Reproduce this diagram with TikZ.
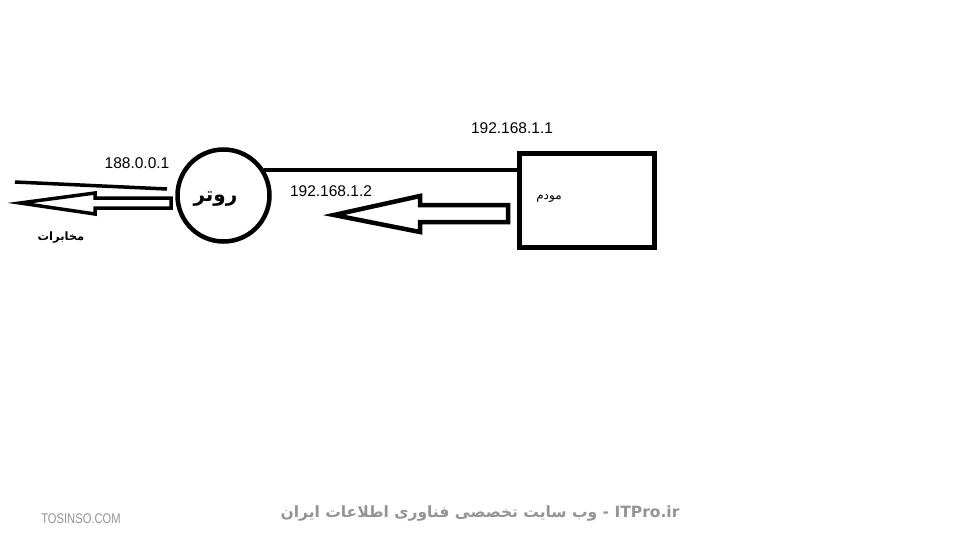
\documentclass[tikz,border=0pt]{standalone}
\usepackage{fontspec}
\setmainfont{Liberation Sans}
\newfontfamily\arabicfont[Script=Arabic]{DejaVu Sans}
\TeXXeTstate=1
\begin{document}
\begin{tikzpicture}[x=1pt,y=-1pt,
  thick line/.style={line width=4.5pt},
  ip/.style={font=\fontsize{15.5}{17}\selectfont, inner sep=0pt},
  hollowarrow/.style={line width=4.5pt, line join=miter, fill=white},
  foot/.style={text=black!42, inner sep=0pt}]
\useasboundingbox[fill=white] (0,0) rectangle (960,540);

% router and modem
\node[circle, draw, thick line, minimum size=92pt, inner sep=0pt] (router) at (223.5,195.5) {};
\node[inner sep=0pt] (routerlabel) at (215.5,199)
  {\arabicfont\bfseries\fontsize{20}{23}\selectfont\beginR روتر\endR};
\node[rectangle, draw, thick line, minimum width=135pt, minimum height=94pt, inner sep=0pt] (modem) at (587,200.5) {};
\node[inner sep=0pt] (modemlabel) at (549,198) {\arabicfont\fontsize{12}{14}\selectfont\beginR مودم\endR};

% connecting line
\draw[thick line] (router.32) -- (modem.west |- router.32);

% IP labels
\node[ip] (ip1) at (512,128) {192.168.1.1};
\node[ip] (ip2) at (331,191) {192.168.1.2};
\node[ip] (ip3) at (137,163) {188.0.0.1};

% hollow arrow modem -> router side
\draw[hollowarrow] (508,205) -- (420,205) -- (420,196) -- (334,215) -- (420,232) -- (420,222) -- (508,222) -- cycle;

% telecom side
\coordinate (la1) at (15,182);
\coordinate (la2) at (167,189);
\draw[line width=3.5pt] (la1) -- (la2);
\draw[line width=3.5pt, line join=miter, fill=white] (171,198) -- (95,198) -- (95,193) -- (20,203) -- (95,214) -- (95,208) -- (171,208) -- cycle;
\node[inner sep=0pt] (telecom) at (61,238) {\arabicfont\bfseries\fontsize{11.5}{13}\selectfont\beginR مخابرات\endR};

% footer
\node[foot, font=\fontsize{14}{16}\selectfont, xscale=0.8] (tosinso) at (81,519) {TOSINSO.COM};
\node[foot, font=\arabicfont\bfseries\fontsize{15.5}{18}\selectfont] (itpro) at (480,513)
  {\beginR\beginL ITPro.ir\endL{} - وب سایت تخصصی فناوری اطلاعات ایران\endR};
\end{tikzpicture}
\end{document}
